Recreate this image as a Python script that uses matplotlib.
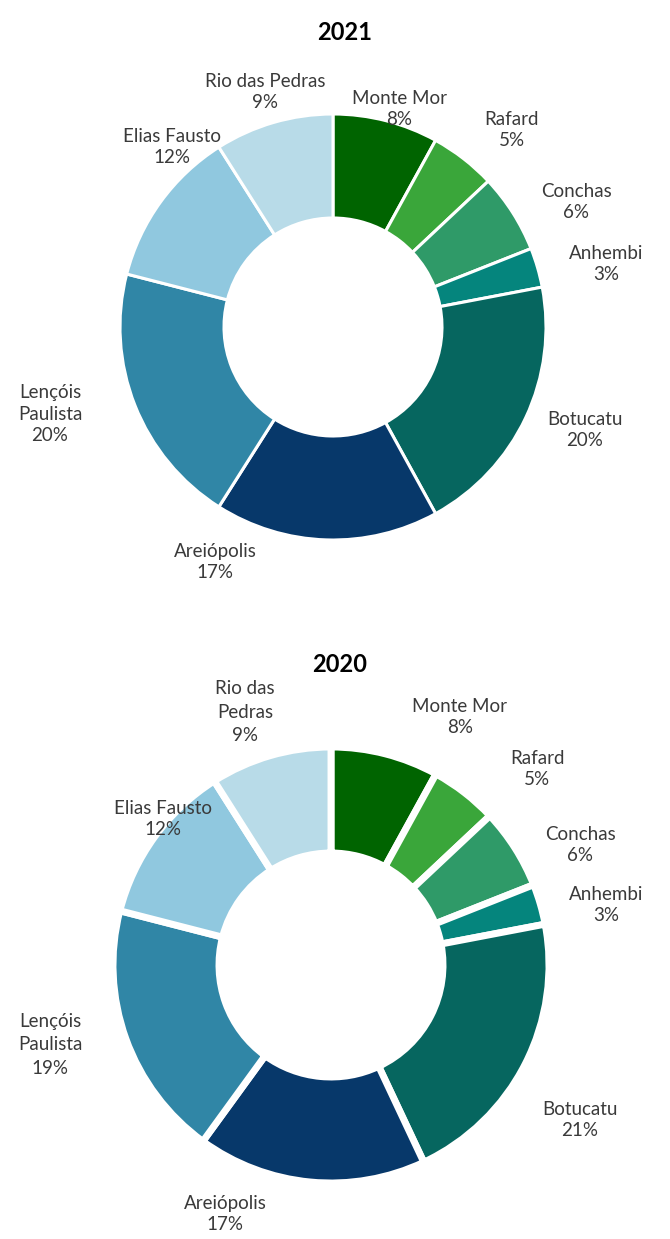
import matplotlib
matplotlib.use("Agg")
import matplotlib.pyplot as plt

plt.rcParams['font.family'] = ['Lato', 'DejaVu Sans']

cities = ["Monte Mor", "Rafard", "Conchas", "Anhembi", "Botucatu",
          "Areiópolis", "Lençóis Paulista", "Elias Fausto", "Rio das Pedras"]
values_2021 = [8, 5, 6, 3, 20, 17, 20, 12, 9]
values_2020 = [8, 5, 6, 3, 21, 17, 19, 12, 9]
colors = ["#006400", "#3aa63a", "#2f9a68", "#05857d", "#06665f",
          "#07386a", "#3086a6", "#90c8df", "#b8dbe8"]

W, H = 670, 1239
fig = plt.figure(figsize=(W / 100, H / 100), dpi=100)
ax = fig.add_axes([0, 0, 1, 1])
ax.set_xlim(0, W)
ax.set_ylim(0, H)
ax.set_aspect('equal')
ax.axis('off')

def Y(p):
    return H - p

# 2021 donut
ax.pie(values_2021, colors=colors, startangle=90, counterclock=False,
       center=(333, Y(327)), radius=213,
       wedgeprops=dict(width=104, edgecolor="white", linewidth=2.2))
# 2020 donut
ax.pie(values_2020, colors=colors, startangle=90, counterclock=False,
       center=(331, Y(965)), radius=218,
       wedgeprops=dict(width=106, edgecolor="white", linewidth=5))
ax.set_xlim(0, W)
ax.set_ylim(0, H)

tc = "#3a3a3a"
fs = 13.5

ax.text(345, Y(33), "2021", ha="center", va="center", fontsize=17,
        fontweight="bold", color="black")
ax.text(340, Y(664), "2020", ha="center", va="center", fontsize=17,
        fontweight="bold", color="black")

def lab(x, y, name, v, ls=1.3):
    ax.text(x, Y(y), f"{name}\n{v}%", ha="center", va="center",
            fontsize=fs, color=tc, linespacing=ls)

# 2021 labels
lab(399, 109, "Monte Mor", values_2021[0])
lab(512, 130, "Rafard", values_2021[1])
lab(576, 202, "Conchas", values_2021[2])
lab(606, 264, "Anhembi", values_2021[3])
lab(585, 430, "Botucatu", values_2021[4])
lab(215, 562, "Areiópolis", values_2021[5])
lab(50, 414, "Lençóis\nPaulista", values_2021[6])
lab(172, 147, "Elias Fausto", values_2021[7])
lab(265, 92, "Rio das Pedras", values_2021[8])

# 2020 labels
lab(460, 717, "Monte Mor", values_2020[0])
lab(537, 769, "Rafard", values_2020[1])
lab(580, 845, "Conchas", values_2020[2])
lab(606, 905, "Anhembi", values_2020[3])
lab(580, 1120, "Botucatu", values_2020[4])
lab(225, 1214, "Areiópolis", values_2020[5])
lab(50, 1045, "Lençóis\nPaulista", values_2020[6], ls=1.45)
lab(163, 819, "Elias Fausto", values_2020[7])
lab(245, 712, "Rio das\nPedras", values_2020[8], ls=1.45)

fig.savefig("out.png", dpi=100, facecolor="white")
